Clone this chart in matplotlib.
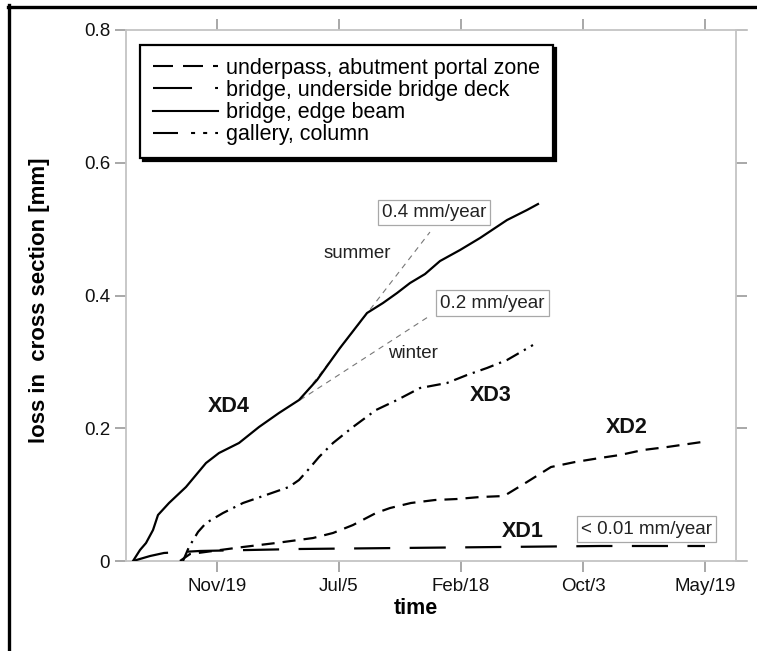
import matplotlib
matplotlib.use('Agg')
import matplotlib.pyplot as plt
from matplotlib.lines import Line2D

plt.rcParams['font.family'] = ['Liberation Sans', 'DejaVu Sans']
plt.rcParams['lines.scale_dashes'] = False

# ---------------- data ----------------
tick_days = [170, 398, 626, 854, 1082]
tick_labels = ['Nov/19', 'Jul/5', 'Feb/18', 'Oct/3', 'May/19']
y_ticks = [0, 0.2, 0.4, 0.6, 0.8]
y_tick_labels = ['0', '0.2', '0.4', '0.6', '0.8']

# XD1 underpass, abutment portal zone
xd1_days = [13.1, 44.9, 71.0, 138.3, 325.2, 512.1, 699.0, 885.9, 1082.1]
xd1_loss = [0.0, 0.0075, 0.0121, 0.0151, 0.0181, 0.0196, 0.0211, 0.0226, 0.0226]

# XD2 bridge, underside bridge deck
xd2_days = [100.9, 119.6, 162.6, 218.7, 280.3, 349.5, 386.9, 424.2, 467.2, 493.4,
            532.6, 577.5, 618.6, 661.6, 706.4, 749.4, 794.3, 839.1, 885.9, 923.2,
            966.2, 1011.1, 1076.5]
xd2_loss = [0.0, 0.0105, 0.0151, 0.0211, 0.0271, 0.0346, 0.0422, 0.0542, 0.0723, 0.0798,
            0.0874, 0.0919, 0.0934, 0.0964, 0.0979, 0.1190, 0.1416, 0.1491, 0.1552, 0.1597,
            0.1672, 0.1717, 0.1793]

# XD3 gallery, column
xd3_days = [106.5, 117.7, 134.6, 149.5, 181.3, 218.7, 261.6, 304.6, 323.3, 340.1,
            360.7, 386.9, 424.2, 467.2, 506.5, 549.5, 599.9, 637.3, 674.7, 712.1, 760.6]
xd3_loss = [0.0, 0.0211, 0.0437, 0.0572, 0.0723, 0.0874, 0.0994, 0.1115, 0.1220, 0.1371,
            0.1567, 0.1778, 0.2019, 0.2275, 0.2425, 0.2606, 0.2682, 0.2802, 0.2908, 0.3028, 0.3254]

# XD4 bridge, edge beam
xd4_days = [13.1, 26.2, 37.4, 50.5, 59.8, 80.4, 112.1, 149.5, 173.8, 211.2, 248.6,
            285.9, 323.3, 357.0, 399.9, 450.4, 480.3, 506.5, 530.8, 558.8, 586.8,
            624.2, 661.6, 712.1, 749.4, 770.0]
xd4_loss = [0.0, 0.0166, 0.0271, 0.0467, 0.0693, 0.0874, 0.1115, 0.1476, 0.1627, 0.1778, 0.2019,
            0.2230, 0.2425, 0.2727, 0.3209, 0.3736, 0.3887, 0.4037, 0.4188, 0.4323, 0.4519,
            0.4685, 0.4866, 0.5137, 0.5288, 0.5378]

# rate guide lines (summer 0.4 mm/year, winter 0.2 mm/year)
summer_days = [325.2, 568.1]
summer_loss = [0.2425, 0.4956]
winter_days = [325.2, 564.4]
winter_loss = [0.2425, 0.3676]

legend_labels = ['underpass, abutment portal zone',
                 'bridge, underside bridge deck',
                 'bridge, edge beam',
                 'gallery, column']

# ---------------- figure ----------------
W, H = 757, 651
fig = plt.figure(figsize=(W / 100, H / 100), dpi=100)
ax = fig.add_axes([126 / W, (H - 561) / H, (747 - 126) / W, (561 - 30) / H])
ax.set_xlim(0, 1160.6)
ax.set_ylim(0, 0.8)

spine_col = '#c4c4c4'
for s in ax.spines.values():
    s.set_color(spine_col)
    s.set_linewidth(1.3)
ax.spines['right'].set_position(('data', 1140))

ax.set_xticks(tick_days)
ax.set_xticklabels(tick_labels)
ax.set_yticks(y_ticks)
ax.set_yticklabels(y_tick_labels)
ax.tick_params(direction='out', length=8, width=1.2, color='#9a9a9a',
               top=True, right=True, labeltop=False, labelright=False,
               labelsize=13.5, labelcolor='#111111')
ax.tick_params(axis='x', pad=4.5)
ax.tick_params(axis='y', pad=3.5)

# guide lines
ax.plot(summer_days, summer_loss, color='#777777', lw=0.8, dashes=(4, 3.5), zorder=2)
ax.plot(winter_days, winter_loss, color='#777777', lw=0.8, dashes=(4, 3.5), zorder=2)

lw = 1.6
ax.plot(xd1_days, xd1_loss, color='black', lw=lw, dashes=(26, 14), zorder=3)
ax.plot(xd2_days, xd2_loss, color='black', lw=lw, dashes=(9.4, 5.8), zorder=3)
ax.plot(xd3_days, xd3_loss, color='black', lw=lw, dashes=(10, 4.3, 1.6, 4.3), zorder=3)
ax.plot(xd4_days, xd4_loss, color='black', lw=lw, zorder=3)

# labels on curves
bold = dict(fontsize=15.5, fontweight='bold', ha='center', va='center', color='#111111')
ax.text(192.5, 0.2335, 'XD4', **bold)
ax.text(682.1, 0.250, 'XD3', **bold)
ax.text(936.3, 0.2004, 'XD2', **bold)
ax.text(742.0, 0.0437, 'XD1', **bold)

plain = dict(fontsize=13.5, ha='center', va='center', color='#222222')
ax.text(431.7, 0.464, 'summer', **plain)
ax.text(536.4, 0.313, 'winter', **plain)

box = dict(boxstyle='square,pad=0.22', fc='white', ec='#a8a8a8', lw=0.9)
ax.text(575.6, 0.525, '0.4 mm/year', bbox=box, **plain)
ax.text(685.0, 0.3887, '0.2 mm/year', bbox=box, **plain)
ax.text(972.8, 0.0482, '< 0.01 mm/year', bbox=box, **plain)

# axis labels
ax.set_xlabel('time', fontsize=15.5, fontweight='bold')
ax.xaxis.set_label_coords((416 - 126) / 621, (561 - 598) / 531)
ax.set_ylabel('loss in  cross section [mm]', fontsize=16, fontweight='bold')
ax.yaxis.set_label_coords((50 - 126) / 621, (561 - 300) / 531)

# legend
handles = [
    Line2D([], [], color='black', lw=1.5, dashes=(14.4, 7.2)),
    Line2D([], [], color='black', lw=1.5, dashes=(28.1, 16.6)),
    Line2D([], [], color='black', lw=1.5),
    Line2D([], [], color='black', lw=1.5, dashes=(18, 9.4, 2.9, 5.8, 2.9, 5.8)),
]
leg = ax.legend(handles, legend_labels, loc='upper left',
                bbox_to_anchor=((140 - 126) / 621, (561 - 45) / 531),
                borderaxespad=0, fontsize=15.5, handlelength=3.0,
                handletextpad=0.4, labelspacing=0.05, borderpad=0.6,
                fancybox=False, framealpha=1, edgecolor='black',
                shadow={'color': 'black', 'alpha': 1.0})
leg.get_frame().set_linewidth(1.6)

# outer frame of the picture (left and top edges)
fig.add_artist(Line2D([8.5 / W, 8.5 / W], [0, (H - 5) / H], color='black', lw=2.4,
                      transform=fig.transFigure))
fig.add_artist(Line2D([7.5 / W, 1.0], [(H - 6.5) / H, (H - 6.5) / H], color='black', lw=2.4,
                      transform=fig.transFigure))

fig.savefig('out.png', dpi=100)
